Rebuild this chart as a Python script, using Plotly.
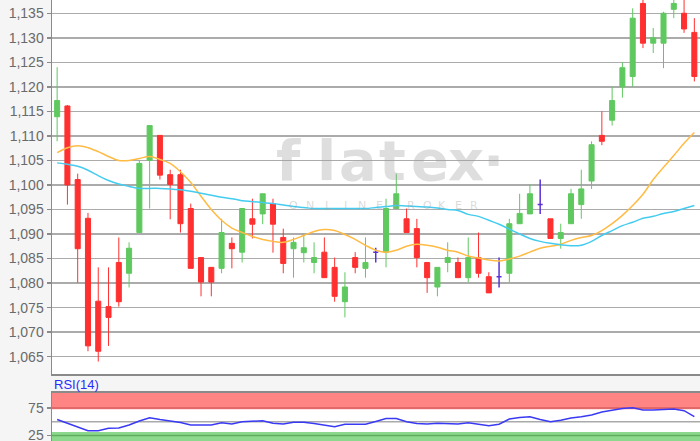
import plotly.graph_objects as go

# ---- data ----
idx = list(range(63))
opens = [1.1139,1.1161,1.1011,1.0932,1.0763,1.0752,1.0842,1.0820,1.0903,1.1050,
         1.1101,1.1021,1.1021,1.0952,1.0852,1.0832,1.0830,1.0881,1.0863,1.0931,
         1.0941,1.0962,1.0893,1.0870,1.0862,1.0842,1.0863,1.0832,1.0762,1.0852,
         1.0830,1.0863,1.0863,1.0952,1.0931,1.0911,1.0842,1.0792,1.0842,1.0842,
         1.0811,1.0852,1.0813,1.0813,1.0820,1.0921,1.0941,1.0960,1.0931,1.0891,
         1.0921,1.0960,1.1008,1.1101,1.1132,1.1200,1.1221,1.1370,1.1289,1.1289,
         1.1358,1.1350,1.1311]
highs = [1.1240,1.1163,1.1023,1.0943,1.0832,1.0832,1.0893,1.0883,1.1050,1.1121,
         1.1101,1.1031,1.1031,1.0962,1.0852,1.0832,1.0931,1.0893,1.0952,1.0972,
         1.0982,1.0972,1.0911,1.0893,1.0901,1.0883,1.0893,1.0852,1.0822,1.0863,
         1.0893,1.0872,1.0972,1.1023,1.0952,1.0931,1.0842,1.0832,1.0883,1.0852,
         1.0893,1.0903,1.0822,1.0852,1.0931,1.0982,1.1001,1.1011,1.0931,1.0921,
         1.0992,1.1031,1.1089,1.1150,1.1200,1.1250,1.1360,1.1380,1.1320,1.1353,
         1.1380,1.1380,1.1340]
lows = [1.1089,1.0960,1.0801,1.0661,1.0640,1.0672,1.0752,1.0791,1.0903,1.0952,
        1.1011,1.0930,1.0903,1.0830,1.0773,1.0773,1.0820,1.0830,1.0842,1.0891,
        1.0920,1.0862,1.0820,1.0811,1.0842,1.0820,1.0811,1.0762,1.0730,1.0820,
        1.0811,1.0842,1.0832,1.0952,1.0903,1.0832,1.0780,1.0773,1.0822,1.0811,
        1.0802,1.0811,1.0780,1.0791,1.0802,1.0921,1.0941,1.0941,1.0891,1.0870,
        1.0921,1.0931,1.0992,1.1081,1.1121,1.1178,1.1200,1.1279,1.1269,1.1238,
        1.1340,1.1310,1.1211]
closes = [1.1172,1.1000,1.0870,1.0672,1.0661,1.0730,1.0762,1.0871,1.1044,1.1121,
          1.1020,1.1001,1.0921,1.0830,1.0802,1.0802,1.0903,1.0870,1.0952,1.0920,
          1.0982,1.0920,1.0840,1.0883,1.0872,1.0852,1.0811,1.0773,1.0792,1.0832,
          1.0842,1.0863,1.0952,1.0982,1.0903,1.0852,1.0811,1.0832,1.0852,1.0811,
          1.0852,1.0820,1.0780,1.0813,1.0921,1.0942,1.0982,1.0960,1.0891,1.0903,
          1.0982,1.0992,1.1082,1.1089,1.1172,1.1239,1.1340,1.1289,1.1300,1.1350,
          1.1370,1.1318,1.1221]
ma_orange = [1.1066,1.1076,1.1080,1.1076,1.1068,1.1058,1.1050,1.1050,1.1054,1.1058,
             1.1052,1.1044,1.1027,1.1005,1.0977,1.0950,1.0928,1.0912,1.0903,1.0895,
             1.0889,1.0885,1.0883,1.0889,1.0897,1.0905,1.0909,1.0907,1.0899,1.0889,
             1.0877,1.0867,1.0863,1.0867,1.0875,1.0879,1.0877,1.0873,1.0867,1.0863,
             1.0855,1.0851,1.0847,1.0845,1.0849,1.0855,1.0863,1.0871,1.0875,1.0879,
             1.0887,1.0893,1.0897,1.0907,1.0921,1.0938,1.0958,1.0981,1.1011,1.1036,
             1.1060,1.1085,1.1107]
ma_cyan = [1.1045,1.1042,1.1038,1.1030,1.1019,1.1009,1.1002,1.0997,1.0993,1.0993,
           1.0993,1.0992,1.0990,1.0987,1.0983,1.0979,1.0975,1.0972,1.0968,1.0966,
           1.0964,1.0962,1.0959,1.0956,1.0954,1.0952,1.0952,1.0952,1.0952,1.0952,
           1.0952,1.0954,1.0956,1.0958,1.0957,1.0956,1.0955,1.0953,1.0950,1.0948,
           1.0940,1.0936,1.0928,1.0920,1.0910,1.0900,1.0891,1.0885,1.0881,1.0878,
           1.0876,1.0877,1.0885,1.0897,1.0907,1.0917,1.0924,1.0932,1.0936,1.0942,
           1.0946,1.0952,1.0958]
rsi = [54.0,47.1,40.3,33.6,33.6,38.0,38.5,44.0,51.3,57.3,
       54.0,51.3,48.5,44.0,44.0,44.0,48.2,45.8,50.0,51.3,
       51.8,47.1,45.8,48.9,48.9,46.7,44.0,40.9,45.3,45.3,
       45.3,50.4,55.8,55.8,50.0,46.7,45.8,47.1,47.1,45.8,
       48.2,44.9,42.7,45.3,54.9,57.7,59.1,54.0,50.0,52.7,
       56.8,59.1,62.2,67.7,70.8,74.1,75.5,71.4,71.4,72.3,
       73.2,70.1,59.1]
price_ticks = [1.065, 1.070, 1.075, 1.080, 1.085, 1.090, 1.095, 1.100,
               1.105, 1.110, 1.115, 1.120, 1.125, 1.130, 1.135]
rsi_ticks = [25, 75]
rsi_levels = [25, 50, 75]
rsi_label = "RSI(14)"
watermark = "flatex·"
watermark_sub = "ONLINE BROKER"

GREEN = "#5fc95f"
RED = "#ff3030"
PURPLE = "#5a32d8"

doji = [o == c for o, c in zip(opens, closes)]
def pick(arr, want):
    return [v for v, d in zip(arr, doji) if d == want]

fig = go.Figure()

fig.add_trace(go.Candlestick(
    x=pick(idx, False), open=pick(opens, False), high=pick(highs, False),
    low=pick(lows, False), close=pick(closes, False),
    increasing=dict(line=dict(color=GREEN, width=1), fillcolor=GREEN),
    decreasing=dict(line=dict(color=RED, width=1), fillcolor=RED),
    whiskerwidth=0, xaxis="x", yaxis="y", showlegend=False, hoverinfo="skip"))
fig.add_trace(go.Candlestick(
    x=pick(idx, True), open=pick(opens, True), high=pick(highs, True),
    low=pick(lows, True), close=pick(closes, True),
    increasing=dict(line=dict(color=PURPLE, width=1.5), fillcolor=PURPLE),
    decreasing=dict(line=dict(color=PURPLE, width=1.5), fillcolor=PURPLE),
    whiskerwidth=0, xaxis="x", yaxis="y", showlegend=False, hoverinfo="skip"))
fig.add_trace(go.Scatter(x=idx, y=ma_orange, mode="lines",
                         line=dict(color="#ffbb44", width=1.5, shape="spline"),
                         xaxis="x", yaxis="y", showlegend=False, hoverinfo="skip"))
fig.add_trace(go.Scatter(x=idx, y=ma_cyan, mode="lines",
                         line=dict(color="#44ccf0", width=1.5, shape="spline"),
                         xaxis="x", yaxis="y", showlegend=False, hoverinfo="skip"))
fig.add_trace(go.Scatter(x=idx, y=rsi, mode="lines",
                         line=dict(color="#3a3af5", width=1.5),
                         xaxis="x2", yaxis="y2", showlegend=False, hoverinfo="skip"))

# RSI zones (drawn below the traces)
fig.add_shape(type="rect", xref="paper", yref="y2", x0=0, x1=1, y0=72.5, y1=110,
              fillcolor="#ff8585", line=dict(width=0), layer="below")
fig.add_shape(type="rect", xref="paper", yref="y2", x0=0, x1=1, y0=0, y1=31,
              fillcolor="#8cd88c", line=dict(width=0), layer="below")
level_cols = ["#5fae5f", "#aaaaaa", "#d86060"]
for lv, col in zip(rsi_levels, level_cols):
    fig.add_shape(type="line", xref="paper", yref="y2", x0=0, x1=1, y0=lv, y1=lv,
                  line=dict(color=col, width=1.5), layer="below")

axis_col = "#8a8a8a"
grid_col = "#ababab"
tickfont = dict(family="Liberation Sans, Arial, sans-serif", size=14, color="#6a6a6a")

fig.update_layout(
    width=700, height=441,
    margin=dict(l=52, r=0, t=0, b=0, autoexpand=False),
    paper_bgcolor="#f5f5f5", plot_bgcolor="#ffffff",
    separators=",.",
    showlegend=False,
    hovermode=False,
    xaxis=dict(domain=[0, 1], anchor="y", range=[-0.5, 62.55], showticklabels=False,
               showgrid=False, zeroline=False, rangeslider=dict(visible=False),
               showline=True, linecolor=axis_col, linewidth=1.5, mirror=True, ticks=""),
    yaxis=dict(domain=[0.1512, 1], anchor="x", range=[1.0614, 1.1377],
               tickvals=price_ticks, tickformat=".3f", tickfont=tickfont,
               showgrid=True, gridcolor=grid_col, gridwidth=1.5, zeroline=False,
               showline=True, linecolor=axis_col, linewidth=1.5, mirror=True,
               ticks="outside", ticklen=4, tickcolor=axis_col, tickwidth=1.5),
    xaxis2=dict(domain=[0, 1], anchor="y2", range=[-0.5, 62.55], showticklabels=False,
                showgrid=False, zeroline=False, rangeslider=dict(visible=False),
                showline=True, linecolor=axis_col, linewidth=1.5, mirror=True, ticks=""),
    yaxis2=dict(domain=[0, 0.1095], anchor="x2", range=[14.8, 102.9],
                tickvals=rsi_ticks, ticktext=[str(t) for t in rsi_ticks], tickfont=tickfont,
                ticklabeloverflow="allow",
                showgrid=False, zeroline=False,
                showline=True, linecolor=axis_col, linewidth=1.5, mirror=True,
                ticks="outside", ticklen=4, tickcolor=axis_col, tickwidth=1.5),
)

def px_x(p):
    return (p - 52) / 648.0

def px_y(p):
    return (441 - p) / 441.0

annotations = [dict(text=rsi_label, xref="paper", yref="paper", x=px_x(52), y=px_y(384),
                    xanchor="left", yanchor="middle", showarrow=False,
                    font=dict(family="Liberation Sans, Arial, sans-serif", size=13, color="#2b2bff"))]

wm_x = [288, 326, 358, 392, 430, 466, 493]
for ch, xp in zip(watermark, wm_x):
    annotations.append(dict(text=ch, xref="paper", yref="paper", x=px_x(xp), y=px_y(160),
                            xanchor="center", yanchor="middle", showarrow=False,
                            font=dict(family="DejaVu Sans", size=56, weight=700,
                                      color="rgba(160,160,160,0.35)")))
sub_x = [293, 310, 328, 345, 362, 379, None, 396, 411, 427, 442, 458, 474]
for ch, xp in zip(watermark_sub, sub_x):
    if xp is None or ch == " ":
        continue
    annotations.append(dict(text=ch, xref="paper", yref="paper", x=px_x(xp), y=px_y(205),
                            xanchor="center", yanchor="middle", showarrow=False,
                            font=dict(family="DejaVu Sans", size=11,
                                      color="rgba(160,160,160,0.4)")))
fig.update_layout(annotations=annotations)

fig.write_html("out.html", config={"displayModeBar": False, "staticPlot": True},
               post_script="document.body.style.margin='0';document.body.style.overflow='hidden';")
